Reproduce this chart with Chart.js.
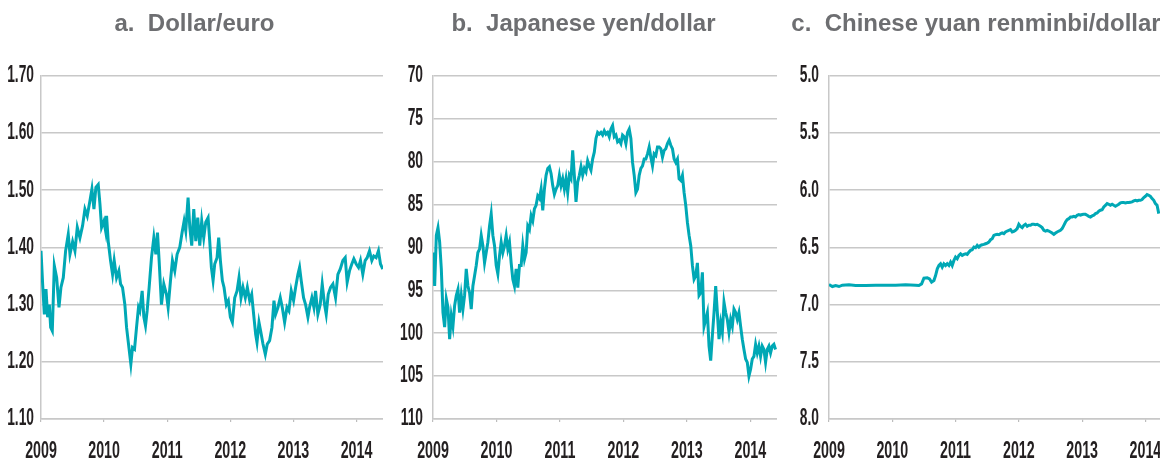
<!DOCTYPE html>
<html>
<head>
<meta charset="utf-8">
<title>Exchange rates</title>
<script src="https://cdn.jsdelivr.net/npm/chart.js@4.4.1/dist/chart.umd.min.js"></script>
<style>
  html, body { margin: 0; padding: 0; background: #fff; }
  body { width: 1160px; height: 460px; overflow: hidden; position: relative; }
  canvas { position: absolute; top: 0; }
</style>
</head>
<body>
<canvas id="euroChart" width="377" height="460" style="left:6px"></canvas>
<canvas id="yenChart" width="387" height="460" style="left:390px"></canvas>
<canvas id="yuanChart" width="392" height="460" style="left:780px"></canvas>
<script>
// x axis: years, shared by all three panels
const yearTicks = [2009, 2010, 2011, 2012, 2013, 2014];
const lastDate = 2014.42;

// a. dollar/euro
const euroTicks = [1.1, 1.2, 1.3, 1.4, 1.5, 1.6, 1.7];
const euroDates = [
  2009.000, 2009.026, 2009.053, 2009.079, 2009.105, 2009.132, 2009.153, 2009.179, 2009.211, 2009.248,
  2009.285, 2009.316, 2009.353, 2009.390, 2009.432, 2009.459, 2009.501, 2009.538, 2009.575, 2009.617,
  2009.659, 2009.696, 2009.733, 2009.775, 2009.807, 2009.839, 2009.870, 2009.907, 2009.934, 2009.960,
  2009.997, 2010.023, 2010.039, 2010.065, 2010.102, 2010.134, 2010.160, 2010.197, 2010.234, 2010.261,
  2010.292, 2010.329, 2010.356, 2010.387, 2010.424, 2010.450, 2010.482, 2010.514, 2010.545, 2010.566,
  2010.603, 2010.630, 2010.656, 2010.682, 2010.714, 2010.751, 2010.788, 2010.820, 2010.846, 2010.872,
  2010.909, 2010.946, 2010.988, 2011.015, 2011.052, 2011.083, 2011.120, 2011.157, 2011.199, 2011.236,
  2011.268, 2011.294, 2011.331, 2011.358, 2011.389, 2011.421, 2011.453, 2011.484, 2011.516, 2011.547,
  2011.579, 2011.611, 2011.648, 2011.674, 2011.700, 2011.727, 2011.753, 2011.790, 2011.816, 2011.843,
  2011.874, 2011.901, 2011.938, 2011.969, 2012.001, 2012.033, 2012.070, 2012.107, 2012.138, 2012.170,
  2012.201, 2012.238, 2012.270, 2012.307, 2012.339, 2012.370, 2012.402, 2012.423, 2012.455, 2012.481,
  2012.518, 2012.555, 2012.586, 2012.623, 2012.660, 2012.692, 2012.718, 2012.755, 2012.792, 2012.824,
  2012.861, 2012.898, 2012.929, 2012.966, 2013.003, 2013.035, 2013.072, 2013.098, 2013.124, 2013.161,
  2013.193, 2013.230, 2013.256, 2013.293, 2013.325, 2013.351, 2013.388, 2013.425, 2013.457, 2013.494,
  2013.520, 2013.552, 2013.589, 2013.626, 2013.668, 2013.705, 2013.742, 2013.784, 2013.821, 2013.852,
  2013.889, 2013.926, 2013.958, 2013.995, 2014.032, 2014.063, 2014.100, 2014.137, 2014.169, 2014.206,
  2014.243, 2014.274, 2014.311, 2014.348, 2014.380, 2014.417
];
const euroValues = [
  1.394, 1.336, 1.283, 1.327, 1.278, 1.300, 1.260, 1.254, 1.368, 1.347,
  1.295, 1.330, 1.347, 1.394, 1.423, 1.388, 1.410, 1.394, 1.435, 1.417,
  1.438, 1.467, 1.455, 1.481, 1.502, 1.467, 1.505, 1.510, 1.476, 1.435,
  1.446, 1.429, 1.455, 1.411, 1.377, 1.353, 1.377, 1.347, 1.359, 1.336,
  1.330, 1.300, 1.260, 1.231, 1.196, 1.225, 1.222, 1.260, 1.295, 1.289,
  1.324, 1.278, 1.263, 1.289, 1.330, 1.382, 1.417, 1.388, 1.426, 1.377,
  1.300, 1.336, 1.318, 1.295, 1.342, 1.377, 1.359, 1.388, 1.400, 1.426,
  1.446, 1.429, 1.487, 1.435, 1.403, 1.467, 1.411, 1.452, 1.403, 1.446,
  1.417, 1.444, 1.452, 1.411, 1.365, 1.342, 1.371, 1.382, 1.417, 1.377,
  1.342, 1.330, 1.300, 1.307, 1.278, 1.269, 1.312, 1.324, 1.347, 1.312,
  1.330, 1.312, 1.330, 1.307, 1.318, 1.283, 1.248, 1.234, 1.269, 1.254,
  1.231, 1.213, 1.231, 1.237, 1.260, 1.307, 1.283, 1.295, 1.312, 1.295,
  1.269, 1.295, 1.289, 1.324, 1.307, 1.330, 1.353, 1.365, 1.342, 1.312,
  1.300, 1.278, 1.295, 1.312, 1.295, 1.324, 1.283, 1.300, 1.336, 1.300,
  1.283, 1.318, 1.330, 1.336, 1.312, 1.353, 1.362, 1.377, 1.382, 1.339,
  1.359, 1.371, 1.380, 1.371, 1.365, 1.377, 1.353, 1.377, 1.382, 1.394,
  1.377, 1.385, 1.382, 1.394, 1.371, 1.362
];

// b. yen/dollar, read every ~9.6 days from the start of 2009
const yenTicks = [70, 75, 80, 85, 90, 95, 100, 105, 110];
const yenStart = 2009;
const yenStep = 0.0262;
const yenValues = [
  90.6, 94.5, 88.6, 87.7, 89.4, 92.5, 97.6, 99.3, 96.0, 97.0,
  100.7, 98.0, 99.2, 96.8, 95.6, 94.9, 97.6, 95.6, 97.2, 95.6,
  92.5, 94.5, 95.3, 97.2, 94.5, 93.3, 92.1, 90.6, 90.2, 88.6,
  89.8, 91.8, 90.6, 89.4, 87.5, 86.1, 88.6, 89.8, 92.1, 93.1,
  91.0, 89.4, 90.6, 89.8, 88.6, 90.2, 89.4, 91.8, 93.7, 94.5,
  92.5, 94.7, 92.1, 92.1, 89.8, 91.4, 90.6, 87.5, 87.9, 86.3,
  86.9, 85.5, 85.1, 84.0, 84.3, 83.2, 85.7, 83.2, 81.6, 80.8,
  80.6, 81.4, 82.8, 83.8, 83.2, 82.8, 81.6, 82.8, 82.0, 83.2,
  82.0, 83.6, 81.6, 82.0, 78.7, 81.6, 84.7, 82.4, 81.6, 80.6,
  81.6, 80.8, 81.2, 79.9, 80.5, 81.0, 79.7, 78.9, 77.3, 76.6,
  76.8, 76.6, 76.9, 76.4, 76.8, 76.6, 77.1, 76.2, 75.8, 77.1,
  76.9, 77.7, 77.5, 77.9, 76.9, 77.1, 77.9, 76.6, 76.2, 77.3,
  80.1, 81.6, 83.6, 83.2, 81.6, 80.8, 80.5, 79.7, 79.7, 79.1,
  78.3, 79.5, 80.5, 79.1, 79.3, 78.3, 78.3, 78.5, 79.5, 78.7,
  78.5, 77.9, 77.5, 78.1, 78.5, 79.7, 80.1, 79.7, 82.0, 82.2,
  81.6, 83.6, 85.1, 87.1, 88.6, 89.8, 92.1, 93.7, 93.3, 91.8,
  95.6, 95.3, 92.9, 99.2, 98.4, 97.6, 101.5, 103.2, 100.3, 97.6,
  94.5, 97.6, 100.7, 98.8, 99.9, 96.4, 97.6, 98.4, 99.9, 98.4,
  99.2, 97.2, 97.6, 98.4, 97.6, 99.2, 100.7, 101.9, 103.0, 103.4,
  105.0, 104.2, 103.0, 102.7, 101.3, 102.3, 101.5, 102.7, 101.5, 101.9,
  103.4, 101.9, 101.5, 102.3, 101.5, 101.3, 101.9
];
const yenDates = yenValues.map((v, i) => yenStart + i * yenStep);

// c. yuan/dollar
const yuanTicks = [5.0, 5.5, 6.0, 6.5, 7.0, 7.5, 8.0];
const yuanDates = [
  2009.000, 2009.053, 2009.105, 2009.158, 2009.211, 2009.316, 2009.421, 2009.579, 2009.737, 2009.895,
  2010.053, 2010.211, 2010.368, 2010.421, 2010.463, 2010.500, 2010.553, 2010.589, 2010.621, 2010.658,
  2010.684, 2010.711, 2010.737, 2010.763, 2010.789, 2010.816, 2010.842, 2010.868, 2010.895, 2010.921,
  2010.947, 2010.974,
  2011.000, 2011.026, 2011.053, 2011.079, 2011.105, 2011.132, 2011.158, 2011.184, 2011.211, 2011.237,
  2011.263, 2011.289, 2011.316, 2011.342, 2011.368, 2011.395, 2011.421, 2011.447, 2011.474, 2011.500,
  2011.526, 2011.553, 2011.579, 2011.605, 2011.632, 2011.658, 2011.684, 2011.711, 2011.737, 2011.763,
  2011.789, 2011.816, 2011.842, 2011.868, 2011.895, 2011.921, 2011.947, 2011.974,
  2012.000, 2012.026, 2012.053, 2012.079, 2012.105, 2012.132, 2012.158, 2012.184, 2012.211, 2012.237,
  2012.263, 2012.289, 2012.316, 2012.342, 2012.368, 2012.395, 2012.421, 2012.447, 2012.474, 2012.500,
  2012.526, 2012.553, 2012.579, 2012.605, 2012.632, 2012.658, 2012.684, 2012.711, 2012.737, 2012.763,
  2012.789, 2012.816, 2012.842, 2012.868, 2012.895, 2012.921, 2012.947, 2012.974,
  2013.000, 2013.026, 2013.053, 2013.079, 2013.105, 2013.132, 2013.158, 2013.184, 2013.211, 2013.237,
  2013.263, 2013.289, 2013.316, 2013.342, 2013.368, 2013.395, 2013.421, 2013.447, 2013.474, 2013.500,
  2013.526, 2013.553, 2013.579, 2013.605, 2013.632, 2013.658, 2013.684, 2013.711, 2013.737, 2013.763,
  2013.789, 2013.816, 2013.842, 2013.868, 2013.895, 2013.921, 2013.947, 2013.974,
  2014.000, 2014.026, 2014.053, 2014.079, 2014.105, 2014.132, 2014.158, 2014.184, 2014.211
];
const yuanValues = [
  6.825, 6.842, 6.833, 6.842, 6.830, 6.827, 6.833, 6.833, 6.830, 6.830,
  6.830, 6.827, 6.830, 6.833, 6.819, 6.769, 6.766, 6.775, 6.804, 6.789,
  6.746, 6.687, 6.658, 6.643, 6.673, 6.643, 6.658, 6.643, 6.658, 6.629,
  6.658, 6.614,
  6.585, 6.599, 6.570, 6.556, 6.570, 6.561, 6.556, 6.561, 6.541, 6.526,
  6.520, 6.497, 6.503, 6.482, 6.497, 6.482, 6.477, 6.474, 6.468, 6.462,
  6.453, 6.433, 6.424, 6.395, 6.389, 6.386, 6.389, 6.380, 6.374, 6.380,
  6.365, 6.357, 6.351, 6.345, 6.365, 6.360, 6.351, 6.336,
  6.298, 6.316, 6.327, 6.307, 6.298, 6.316, 6.307, 6.307, 6.298, 6.298,
  6.301, 6.298, 6.307, 6.316, 6.327, 6.351, 6.357, 6.351, 6.357, 6.365,
  6.374, 6.386, 6.374, 6.365, 6.357, 6.351, 6.336, 6.307, 6.278, 6.257,
  6.249, 6.234, 6.234, 6.228, 6.234, 6.219, 6.213, 6.219,
  6.213, 6.211, 6.211, 6.219, 6.228, 6.234, 6.225, 6.219, 6.205, 6.199,
  6.184, 6.175, 6.170, 6.146, 6.132, 6.117, 6.123, 6.132, 6.123, 6.132,
  6.140, 6.132, 6.123, 6.111, 6.108, 6.108, 6.111, 6.108, 6.108, 6.105,
  6.102, 6.094, 6.088, 6.094, 6.088, 6.088, 6.082, 6.064,
  6.053, 6.038, 6.044, 6.053, 6.073, 6.088, 6.117, 6.132, 6.205
];

const lineColor = '#00a8b5';
const gridColor = '#c8c8c8';
const labelFont = 'bold 23px "Liberation Sans", Arial, sans-serif';

// the reference uses a very condensed face for the axis numbers,
// so the labels are drawn here squeezed horizontally
const tickText = {
  id: 'tickText',
  afterDraw(chart, args, opts) {
    const ctx = chart.ctx;
    const x = chart.scales.x;
    const y = chart.scales.y;
    ctx.save();
    ctx.fillStyle = '#231f20';
    ctx.font = labelFont;

    ctx.textAlign = 'right';
    ctx.textBaseline = 'middle';
    y.ticks.forEach(t => {
      ctx.save();
      ctx.translate(chart.chartArea.left - opts.gap, y.getPixelForValue(t.value));
      ctx.scale(0.6, 1);
      ctx.fillText(t.value.toFixed(opts.digits), 0, 0);
      ctx.restore();
    });

    ctx.textAlign = 'center';
    ctx.textBaseline = 'alphabetic';
    x.ticks.forEach(t => {
      ctx.save();
      ctx.translate(x.getPixelForValue(t.value), chart.chartArea.bottom + 39);
      ctx.scale(0.62, 1);
      ctx.fillText(String(t.value), 0, 0);
      ctx.restore();
    });
    ctx.restore();
  }
};

function makeChart(id, title, dates, values, yTicks, digits, reversed, axisWidth, gap) {
  const ctx = document.getElementById(id).getContext('2d');
  return new Chart(ctx, {
    type: 'line',
    data: {
      datasets: [{
        data: dates.map((d, i) => ({ x: d, y: values[i] })),
        borderColor: lineColor,
        borderWidth: 3,
        pointRadius: 0,
        tension: 0,
        fill: false
      }]
    },
    options: {
      responsive: false,
      animation: false,
      layout: { padding: { left: 0, right: 0, top: 0, bottom: 38 } },
      plugins: {
        legend: { display: false },
        tooltip: { enabled: false },
        title: {
          display: true,
          text: title,
          color: '#6d6e71',
          font: { family: '"Liberation Sans", Arial, sans-serif', size: 24, weight: 'bold' },
          padding: { top: 10, bottom: 37 }
        },
        tickText: { digits: digits, gap: gap }
      },
      scales: {
        x: {
          type: 'linear',
          min: yearTicks[0],
          max: lastDate,
          afterBuildTicks: scale => { scale.ticks = yearTicks.map(v => ({ value: v })); },
          ticks: { display: false },
          grid: { drawOnChartArea: false, drawTicks: true, tickLength: 3, color: '#bdbdbd', lineWidth: 1.2 },
          border: { display: true, color: gridColor, width: 1.5 }
        },
        y: {
          min: yTicks[0],
          max: yTicks[yTicks.length - 1],
          reverse: reversed,
          afterBuildTicks: scale => { scale.ticks = yTicks.map(v => ({ value: v })); },
          afterFit: scale => { scale.width = axisWidth; },
          ticks: { display: false },
          grid: { drawTicks: false, color: gridColor, lineWidth: 1.5 },
          border: { display: true, color: gridColor, width: 1.5 }
        }
      }
    },
    plugins: [tickText]
  });
}

makeChart('euroChart', 'a.  Dollar/euro', euroDates, euroValues, euroTicks, 2, false, 35, 7);
makeChart('yenChart', 'b.  Japanese yen/dollar', yenDates, yenValues, yenTicks, 0, true, 43, 10);
makeChart('yuanChart', 'c.  Chinese yuan renminbi/dollar', yuanDates, yuanValues, yuanTicks, 1, true, 49, 10);
</script>
</body>
</html>
